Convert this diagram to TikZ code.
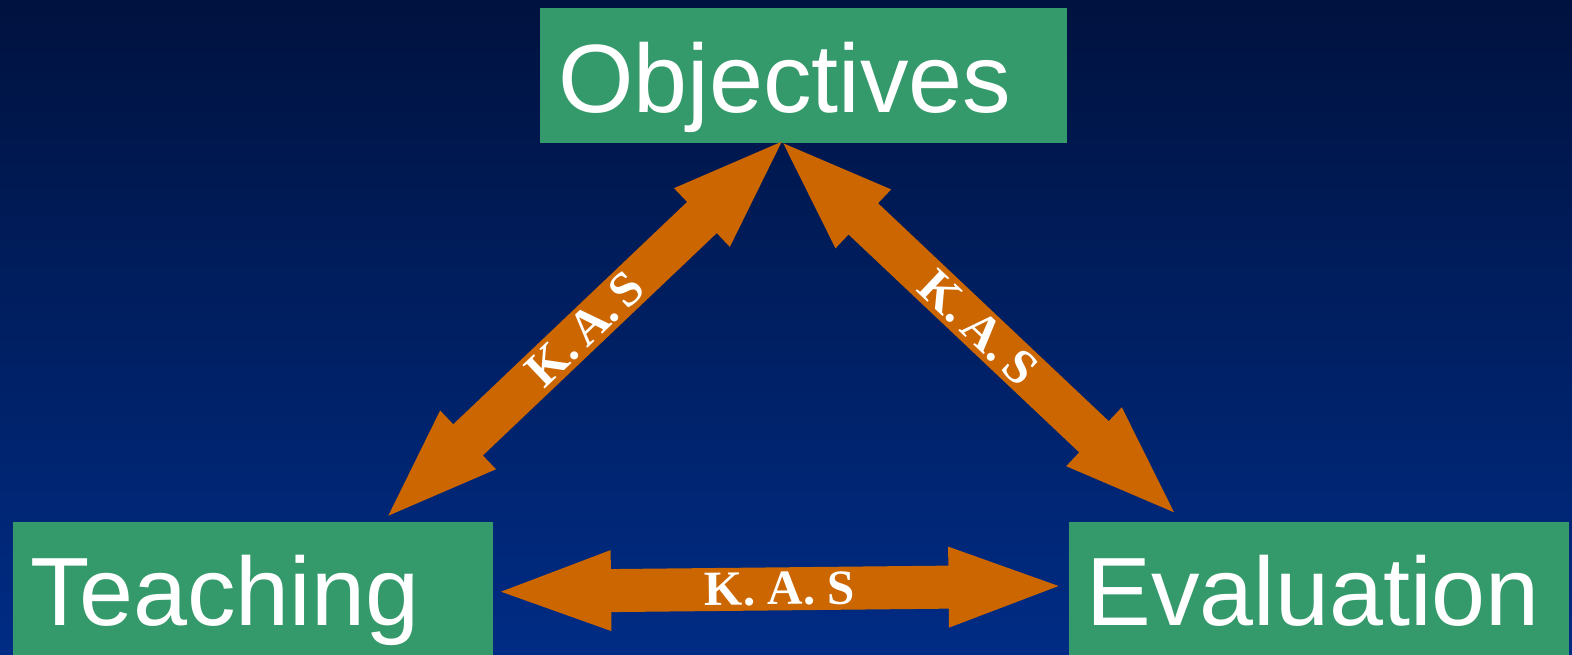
\documentclass[tikz,border=0pt]{standalone}
\usepackage{fontspec}
\setmainfont{Liberation Sans}
\newfontfamily\kasfont{Liberation Serif}
\usetikzlibrary{calc}

\definecolor{bgtop}{HTML}{00123F}
\definecolor{bgbot}{HTML}{002C85}
\definecolor{boxgreen}{HTML}{359A6B}
\definecolor{kasorange}{HTML}{CC6600}

\newcommand{\headlen}{1.1cm}
\newcommand{\headwd}{0.405cm}
\newcommand{\shaftwd}{0.215cm}
\newcommand{\kasarrow}[2]{%
    \fill[kasorange] (#1)
        -- ($(#1)!\headlen!(#2)!\headwd!90:(#2)$)
        -- ($(#1)!\headlen!(#2)!\shaftwd!90:(#2)$)
        -- ($(#2)!\headlen!(#1)!\shaftwd!-90:(#1)$)
        -- ($(#2)!\headlen!(#1)!\headwd!-90:(#1)$)
        -- (#2)
        -- ($(#2)!\headlen!(#1)!\headwd!90:(#1)$)
        -- ($(#2)!\headlen!(#1)!\shaftwd!90:(#1)$)
        -- ($(#1)!\headlen!(#2)!\shaftwd!-90:(#2)$)
        -- ($(#1)!\headlen!(#2)!\headwd!-90:(#2)$)
        -- cycle;}

\begin{document}
\begin{tikzpicture}[x=0.01cm, y=-0.01cm,
    goalbox/.style={fill=boxgreen, text=white, anchor=north west,
        inner xsep=0.18cm, inner ysep=0pt, align=left,
        text height=0.8cm, text depth=0.06cm,
        font=\fontsize{27.6}{32}\selectfont},
    kaslabel/.style={text=white, inner sep=0pt,
        font=\kasfont\bfseries\fontsize{14}{16}\selectfont}]
    \useasboundingbox (0,0) rectangle (1572,654);
    \shade[top color=bgtop, bottom color=bgbot] (0,0) rectangle (1572,654);

    \node[goalbox, minimum width=5.26cm, minimum height=1.354cm, text width=4.9cm]
        (obj) at (539.6,7.3) {Objectives};
    \node[goalbox, minimum width=4.8cm, minimum height=1.33cm, text width=4.44cm]
        (tch) at (12,521) {Teaching};
    \node[goalbox, minimum width=5.0cm, minimum height=1.33cm, text width=4.64cm]
        (evl) at (1068,521) {Evaluation};

    \coordinate (tch-up) at (388.3,515.7);
    \coordinate (obj-l) at (781.7,141.7);
    \coordinate (obj-r) at (783.3,143.3);
    \coordinate (evl-up) at (1174,512.3);
    \coordinate (tch-rt) at (501,591.7);
    \coordinate (evl-lt) at (1058.6,586);

    \kasarrow{tch-up}{obj-l}
    \kasarrow{obj-r}{evl-up}
    \kasarrow{tch-rt}{evl-lt}

    \path (tch-up) -- (obj-l) node[midway, sloped, kaslabel] {K.\,A.\,S};
    \path (obj-r) -- (evl-up) node[midway, sloped, kaslabel] {K.\,A.\,S};
    \path (tch-rt) -- (evl-lt) node[midway, sloped, kaslabel] {K. A. S};
\end{tikzpicture}
\end{document}
